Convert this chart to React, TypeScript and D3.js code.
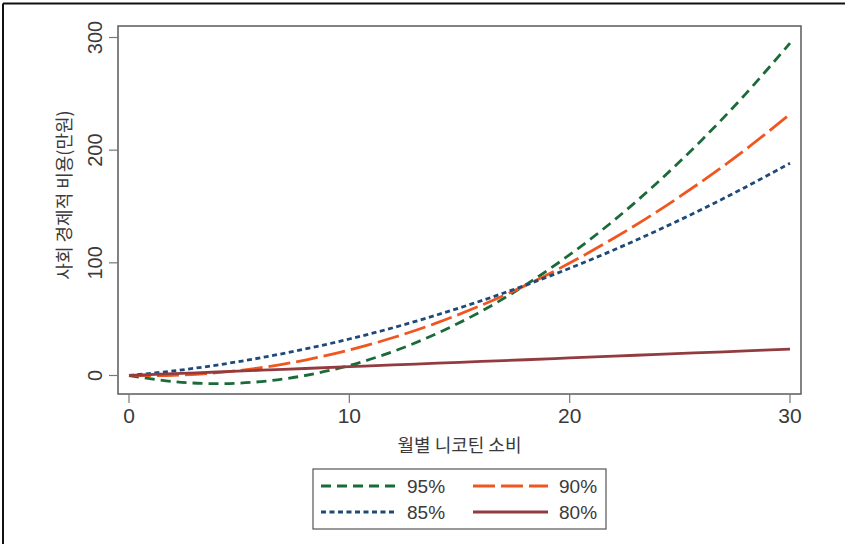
import * as d3 from "d3";

// monthly nicotine consumption (x) and social-economic cost (만원) per percentile curve
const xs = [0, 2, 4, 6, 8, 10, 12, 14, 16, 18, 20, 22, 24, 26, 28, 30];
const p95 = [0, -5.4, -7.2, -5.4, 0, 8.9, 21.4, 37.5, 57.1, 80.4, 107.2, 137.5, 171.6, 209.1, 250.2, 295];
const p90 = [0, 0.2, 2.5, 7.0, 13.7, 22.6, 33.7, 46.9, 62.4, 80, 99.8, 121.8, 145.9, 172.3, 200.8, 232];
const p85 = [0, 4.0, 9.3, 15.8, 23.5, 32.4, 42.5, 53.9, 66.4, 80.2, 95.2, 111.4, 128.9, 147.5, 167.4, 188.4];
const p80 = [0, 1.6, 3.1, 4.7, 6.2, 7.8, 9.4, 10.9, 12.5, 14, 15.6, 17.2, 18.7, 20.3, 21.8, 23.4];
const xTicks = [0, 10, 20, 30];
const yTicks = [0, 100, 200, 300];

const series = [
  { name: "95%", values: p95, color: "#1b6b3a", dash: "10,6" },
  { name: "90%", values: p90, color: "#f0561f", dash: "22,6" },
  { name: "85%", values: p85, color: "#1f4a78", dash: "5,3.5" },
  { name: "80%", values: p80, color: "#933c40", dash: null },
];

const textColor = "#3a3a3a";
const numFont = "'Liberation Sans Narrow', 'Liberation Sans', Arial, sans-serif";
const krFont = "'Noto Sans CJK KR', 'Noto Sans', sans-serif";

export default function App() {
  const W = 845;
  const H = 544;
  const frame = { left: 118, right: 801, top: 26, bottom: 394 };

  const x = d3.scaleLinear().domain([0, 30]).range([129, 790]);
  const y = d3.scaleLinear().domain([0, 300]).range([375.5, 37.5]);

  const line = d3
    .line<number>()
    .x((_, i) => x(xs[i]))
    .y((d) => y(d))
    .curve(d3.curveCatmullRom);

  const legendCols = [321, 473];
  const legendRows = [487, 513];

  return (
    <svg
      width={W}
      height={H}
      style={{ position: "absolute", left: 0, top: 0, background: "#fff" }}
    >
      {/* outer border */}
      <line x1={3} y1={3.5} x2={W} y2={3.5} stroke="#111" strokeWidth={2} />
      <line x1={3} y1={3.5} x2={3} y2={H} stroke="#111" strokeWidth={2} />

      {/* plot frame */}
      <rect
        x={frame.left}
        y={frame.top}
        width={frame.right - frame.left}
        height={frame.bottom - frame.top}
        fill="none"
        stroke="#5a5a5a"
        strokeWidth={1.5}
      />

      {/* y axis */}
      {yTicks.map((t) => (
        <g key={"y" + t}>
          <line x1={frame.left - 9} x2={frame.left} y1={y(t)} y2={y(t)} stroke="#777" strokeWidth={1.2} />
          <text
            transform={`translate(102,${y(t)}) rotate(-90)`}
            textAnchor="middle"
            fontFamily={numFont}
            fontSize={20}
            fill={textColor}
          >
            {t}
          </text>
        </g>
      ))}
      <text
        transform={`translate(71,${195}) rotate(-90)`}
        textAnchor="middle"
        fontFamily={krFont}
        fontSize={18}
        fill={textColor}
      >
        사회 경제적 비용(만원)
      </text>

      {/* x axis */}
      {xTicks.map((t) => (
        <g key={"x" + t}>
          <line x1={x(t)} x2={x(t)} y1={frame.bottom} y2={frame.bottom + 9} stroke="#777" strokeWidth={1.2} />
          <text
            x={x(t)}
            y={423}
            textAnchor="middle"
            fontFamily={numFont}
            fontSize={21}
            fill={textColor}
          >
            {t}
          </text>
        </g>
      ))}
      <text
        x={(frame.left + frame.right) / 2}
        y={452}
        textAnchor="middle"
        fontFamily={krFont}
        fontSize={18}
        fill={textColor}
      >
        월별 니코틴 소비
      </text>

      {/* curves */}
      {series.map((s) => (
        <path
          key={s.name}
          d={line(s.values) || ""}
          fill="none"
          stroke={s.color}
          strokeWidth={2.8}
          strokeDasharray={s.dash || undefined}
        />
      ))}

      {/* legend */}
      <rect x={313} y={469} width={293} height={60} fill="#fff" stroke="#555" strokeWidth={1.2} />
      {series.map((s, i) => {
        const cx = legendCols[i % 2];
        const cy = legendRows[Math.floor(i / 2)];
        return (
          <g key={"lg" + s.name}>
            <line
              x1={cx}
              x2={cx + 75}
              y1={cy - 1}
              y2={cy - 1}
              stroke={s.color}
              strokeWidth={2.8}
              strokeDasharray={s.dash || undefined}
            />
            <text x={cx + 86} y={cy + 6} fontFamily={numFont} fontSize={19} fill={textColor}>
              {s.name}
            </text>
          </g>
        );
      })}
    </svg>
  );
}
